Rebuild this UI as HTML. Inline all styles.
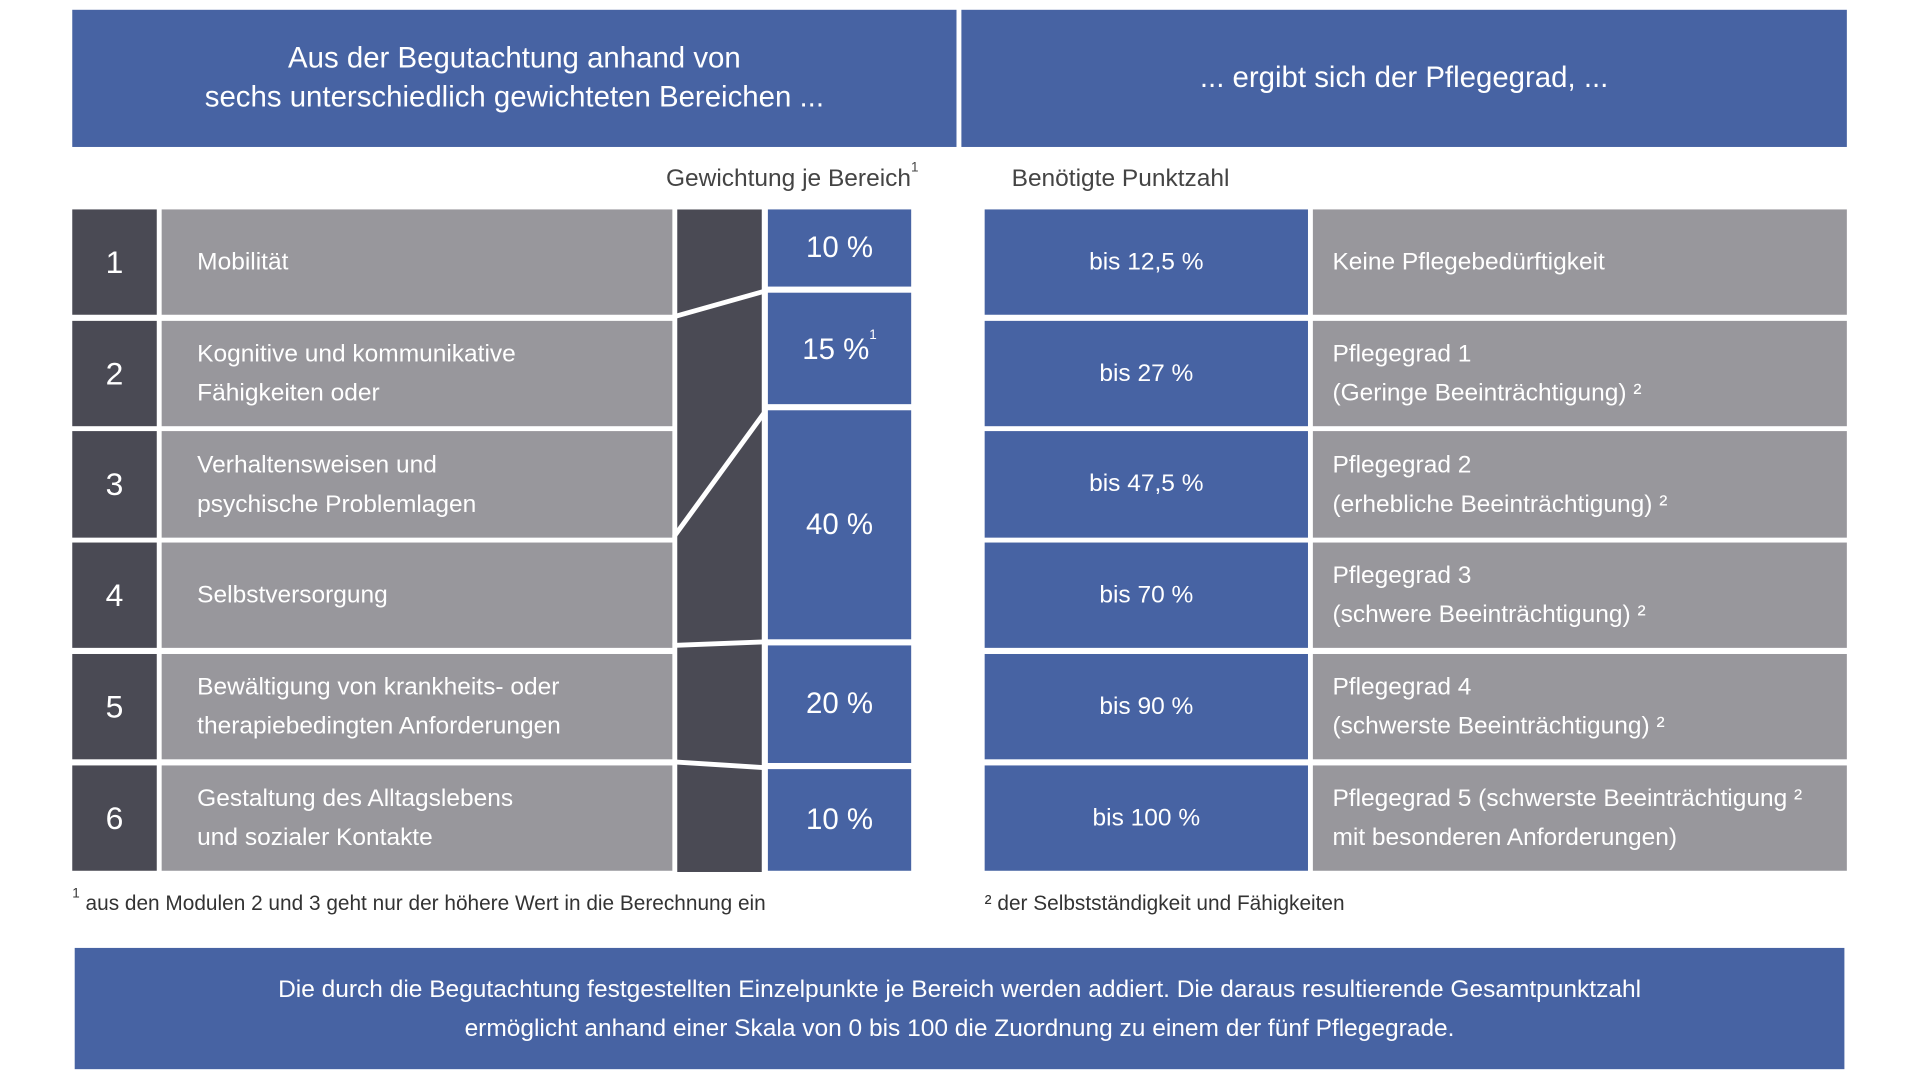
<!DOCTYPE html>
<html><head><meta charset="utf-8"><style>
html,body{margin:0;padding:0;background:#fff;width:1920px;height:1080px;overflow:hidden}
#w{position:absolute;left:0;top:0;width:1560px;height:878px;transform:scale(1.2247);transform-origin:0 0;font-family:"Liberation Sans",sans-serif}
.a{position:absolute;box-sizing:border-box}
.blue{background:#4763a3;color:#fff}
.dark{background:#4a4a54;color:#fff}
.gray{background:#98979c;color:#fff}
.c{display:flex;align-items:center;justify-content:center;text-align:center}
.l{display:flex;align-items:center;padding-left:29px;font-size:20px;line-height:32px}
.rl{display:flex;align-items:center;padding-left:16px;font-size:20px;line-height:32px}
sup{font-size:11px;vertical-align:top;position:relative;top:-4px}
</style></head><body><div id="w">
<div class="a blue c" style="left:59px;top:8px;width:722px;height:112px;font-size:24px;line-height:32px">Aus der Begutachtung anhand von<br>sechs unterschiedlich gewichteten Bereichen ...</div>
<div class="a blue c" style="left:785px;top:8px;width:723px;height:112px;font-size:24px">... ergibt sich der Pflegegrad, ...</div>
<div class="a" style="left:400px;width:350px;top:135px;text-align:right;font-size:20px;color:#444">Gewichtung je Bereich<sup>1</sup></div>
<div class="a" style="left:826px;top:135px;font-size:20px;color:#444">Benötigte Punktzahl</div>

<div class="a dark c" style="left:59px;top:171px;width:69px;height:86px;font-size:26px">1</div>
<div class="a dark c" style="left:59px;top:262px;width:69px;height:86px;font-size:26px">2</div>
<div class="a dark c" style="left:59px;top:352px;width:69px;height:87px;font-size:26px">3</div>
<div class="a dark c" style="left:59px;top:443px;width:69px;height:86px;font-size:26px">4</div>
<div class="a dark c" style="left:59px;top:534px;width:69px;height:86px;font-size:26px">5</div>
<div class="a dark c" style="left:59px;top:625px;width:69px;height:86px;font-size:26px">6</div>

<div class="a gray l" style="left:132px;top:171px;width:417px;height:86px">Mobilität</div>
<div class="a gray l" style="left:132px;top:262px;width:417px;height:86px">Kognitive und kommunikative<br>Fähigkeiten oder</div>
<div class="a gray l" style="left:132px;top:352px;width:417px;height:87px">Verhaltensweisen und<br>psychische Problemlagen</div>
<div class="a gray l" style="left:132px;top:443px;width:417px;height:86px">Selbstversorgung</div>
<div class="a gray l" style="left:132px;top:534px;width:417px;height:86px">Bewältigung von krankheits- oder<br>therapiebedingten Anforderungen</div>
<div class="a gray l" style="left:132px;top:625px;width:417px;height:86px">Gestaltung des Alltagslebens<br>und sozialer Kontakte</div>

<svg class="a" style="left:549px;top:171px" width="78" height="541">
<rect x="4" y="0" width="69" height="541" fill="#4a4a54"/>
<g stroke="#fff" stroke-width="4" fill="none">
<line x1="0" y1="88" x2="78" y2="66"/>
<line x1="0" y1="269" x2="78" y2="162"/>
<line x1="0" y1="356" x2="78" y2="353"/>
<line x1="0" y1="451" x2="78" y2="456"/>
</g></svg>

<div class="a blue c" style="left:627px;top:171px;width:117px;height:63px;font-size:24px">10 %</div>
<div class="a blue" style="left:627px;top:239px;width:117px;height:91px;font-size:24px;text-align:center;padding-top:33px">15 %<sup>1</sup></div>
<div class="a blue c" style="left:627px;top:335px;width:117px;height:187px;font-size:24px">40 %</div>
<div class="a blue c" style="left:627px;top:527px;width:117px;height:96px;font-size:24px">20 %</div>
<div class="a blue c" style="left:627px;top:628px;width:117px;height:83px;font-size:24px">10 %</div>

<div class="a blue c" style="left:804px;top:171px;width:264px;height:86px;font-size:20px">bis 12,5 %</div>
<div class="a blue c" style="left:804px;top:262px;width:264px;height:86px;font-size:20px">bis 27 %</div>
<div class="a blue c" style="left:804px;top:352px;width:264px;height:87px;font-size:20px">bis 47,5 %</div>
<div class="a blue c" style="left:804px;top:443px;width:264px;height:86px;font-size:20px">bis 70 %</div>
<div class="a blue c" style="left:804px;top:534px;width:264px;height:86px;font-size:20px">bis 90 %</div>
<div class="a blue c" style="left:804px;top:625px;width:264px;height:86px;font-size:20px">bis 100 %</div>

<div class="a gray rl" style="left:1072px;top:171px;width:436px;height:86px">Keine Pflegebedürftigkeit</div>
<div class="a gray rl" style="left:1072px;top:262px;width:436px;height:86px">Pflegegrad 1<br>(Geringe Beeinträchtigung) ²</div>
<div class="a gray rl" style="left:1072px;top:352px;width:436px;height:87px">Pflegegrad 2<br>(erhebliche Beeinträchtigung) ²</div>
<div class="a gray rl" style="left:1072px;top:443px;width:436px;height:86px">Pflegegrad 3<br>(schwere Beeinträchtigung) ²</div>
<div class="a gray rl" style="left:1072px;top:534px;width:436px;height:86px">Pflegegrad 4<br>(schwerste Beeinträchtigung) ²</div>
<div class="a gray rl" style="left:1072px;top:625px;width:436px;height:86px">Pflegegrad 5 (schwerste Beeinträchtigung ²<br>mit besonderen Anforderungen)</div>

<div class="a" style="left:59px;top:728px;font-size:17px;color:#333"><sup>1</sup> aus den Modulen 2 und 3 geht nur der höhere Wert in die Berechnung ein</div>
<div class="a" style="left:804px;top:728px;font-size:17px;color:#333">² der Selbstständigkeit und Fähigkeiten</div>

<div class="a blue c" style="left:61px;top:774px;width:1445px;height:99px;font-size:20px;line-height:32px">Die durch die Begutachtung festgestellten Einzelpunkte je Bereich werden addiert. Die daraus resultierende Gesamtpunktzahl<br>ermöglicht anhand einer Skala von 0 bis 100 die Zuordnung zu einem der fünf Pflegegrade.</div>
</div></body></html>
